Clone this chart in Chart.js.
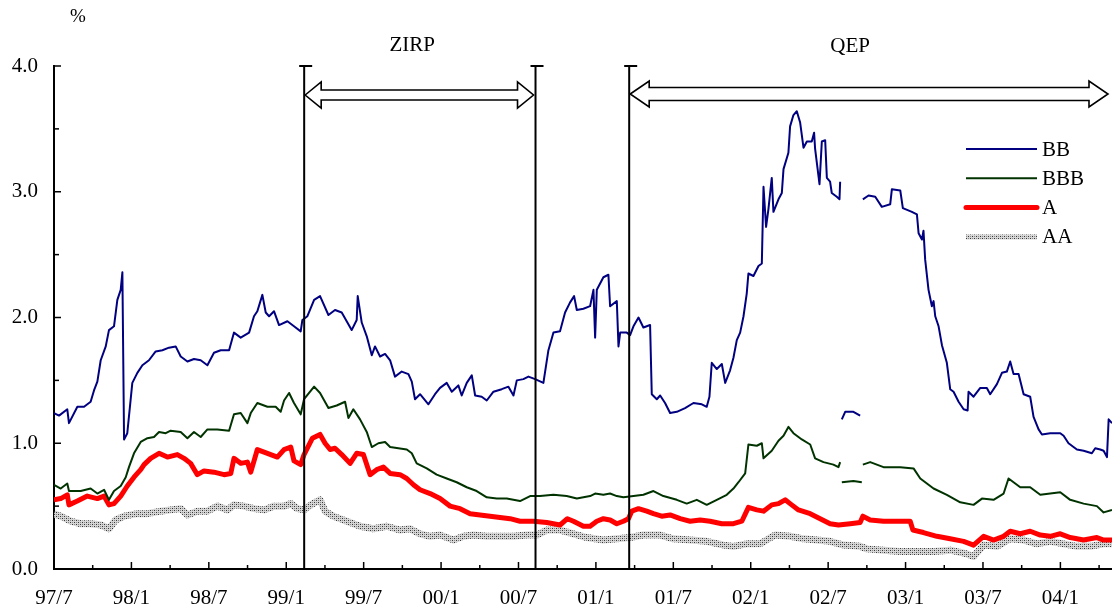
<!DOCTYPE html>
<html>
<head>
<meta charset="utf-8">
<script src="https://cdn.jsdelivr.net/npm/chart.js@4.4.1/dist/chart.umd.min.js"></script>
<style>
  html, body { margin: 0; padding: 0; background: #fff; }
  #spreads { display: block; }
</style>
</head>
<body>
<canvas id="spreads" width="1112" height="612"></canvas>
<script>
// x values are months counted from the start of July 1997
const tickLabels = ['97/7', '98/1', '98/7', '99/1', '99/7', '00/1', '00/7',
  '01/1', '01/7', '02/1', '02/7', '03/1', '03/7', '04/1'];
const yTicks = [0, 1, 2, 3, 4];

// ZIRP start (99/2/12), ZIRP end (00/8/11), QEP start (01/3/19)
const policyDates = [19.39, 37.32, 44.58];
const periodNames = ['ZIRP', 'QEP'];

const seriesNames = ['BB', 'BBB', 'A', 'AA'];

const bb = [
  [0, 1.24], [0.39, 1.22], [1.03, 1.27], [1.16, 1.16], [1.81, 1.29], [2.33, 1.29], [2.84, 1.33],
  [3.10, 1.42], [3.36, 1.49], [3.62, 1.66], [4.01, 1.77], [4.26, 1.90], [4.65, 1.93], [4.91, 2.14],
  [5.17, 2.22], [5.30, 2.36], [5.43, 1.03], [5.68, 1.08], [6.07, 1.48], [6.46, 1.56], [6.85, 1.62],
  [7.36, 1.66], [7.88, 1.73], [8.40, 1.74], [8.91, 1.76], [9.43, 1.77], [9.82, 1.69], [10.34, 1.65],
  [10.85, 1.67], [11.37, 1.66], [11.89, 1.62], [12.40, 1.72], [12.92, 1.74], [13.57, 1.74],
  [13.95, 1.88], [14.47, 1.84], [15.12, 1.88], [15.50, 2.01], [15.76, 2.05], [16.15, 2.18],
  [16.41, 2.04], [16.67, 2.01], [17.05, 2.05], [17.44, 1.94], [18.09, 1.97], [18.60, 1.93],
  [19.12, 1.89], [19.25, 1.98], [19.64, 2.01], [20.16, 2.14], [20.62, 2.17], [21.27, 2.02],
  [21.78, 2.06], [22.30, 2.04], [23.07, 1.90], [23.46, 1.98], [23.54, 2.17], [23.85, 1.96],
  [24.24, 1.85], [24.63, 1.70], [24.88, 1.77], [25.27, 1.69], [25.66, 1.71], [26.05, 1.66],
  [26.43, 1.53], [26.95, 1.57], [27.47, 1.55], [27.73, 1.49], [27.98, 1.35], [28.37, 1.39],
  [29.02, 1.31], [29.53, 1.39], [29.92, 1.44], [30.44, 1.48], [30.83, 1.41], [31.34, 1.46],
  [31.60, 1.38], [31.99, 1.48], [32.38, 1.54], [32.64, 1.38], [33.15, 1.37], [33.54, 1.34],
  [34.06, 1.41], [34.70, 1.43], [35.22, 1.45], [35.61, 1.38], [35.87, 1.50], [36.38, 1.51],
  [36.77, 1.53], [37.29, 1.51], [37.93, 1.48], [38.32, 1.74], [38.71, 1.88], [39.22, 1.89],
  [39.61, 2.04], [40.00, 2.12], [40.31, 2.17], [40.52, 2.06], [41.03, 2.07], [41.55, 2.09],
  [41.81, 2.22], [41.94, 1.84], [42.07, 2.22], [42.58, 2.32], [42.97, 2.34], [43.10, 2.09],
  [43.62, 2.13], [43.75, 1.77], [43.88, 1.88], [44.39, 1.88], [44.65, 1.86], [44.91, 1.93],
  [45.30, 2.00], [45.68, 1.92], [46.20, 1.94], [46.33, 1.39], [46.72, 1.35], [46.98, 1.38],
  [47.36, 1.32], [47.75, 1.24], [48.27, 1.25], [48.91, 1.28], [49.56, 1.32], [50.21, 1.31],
  [50.59, 1.29], [50.80, 1.37], [50.98, 1.64], [51.37, 1.59], [51.76, 1.63], [52.02, 1.48],
  [52.40, 1.58], [52.66, 1.68], [52.92, 1.82], [53.18, 1.88], [53.44, 2.01], [53.69, 2.19],
  [53.82, 2.35], [54.21, 2.33], [54.60, 2.41], [54.86, 2.43], [54.99, 3.04], [55.19, 2.72],
  [55.37, 2.86], [55.63, 3.11], [55.76, 2.84], [56.15, 2.94], [56.41, 2.99], [56.54, 3.18],
  [56.92, 3.31], [57.05, 3.52], [57.31, 3.61], [57.57, 3.64], [57.83, 3.55], [58.09, 3.35],
  [58.35, 3.40], [58.73, 3.40], [58.91, 3.47], [58.99, 3.34], [59.33, 3.06], [59.51, 3.40],
  [59.77, 3.41], [59.90, 3.11], [60.15, 3.08], [60.28, 2.99], [60.67, 2.96], [60.88, 2.94],
  [60.93, 3.08], [61.00, null], [61.06, 1.19], [61.32, 1.25], [61.96, 1.25], [62.48, 1.22],
  [62.60, null], [62.69, 2.94], [63.13, 2.97], [63.65, 2.96], [64.16, 2.88], [64.81, 2.90],
  [64.94, 3.02], [65.59, 3.01], [65.79, 2.87], [66.49, 2.84], [66.88, 2.82], [67.01, 2.67],
  [67.27, 2.62], [67.39, 2.69], [67.52, 2.46], [67.78, 2.22], [68.04, 2.09], [68.17, 2.13],
  [68.30, 2.01], [68.56, 1.93], [68.82, 1.78], [69.20, 1.64], [69.46, 1.43], [69.72, 1.41],
  [70.11, 1.33], [70.50, 1.27], [70.81, 1.26], [70.88, 1.41], [71.27, 1.37], [71.79, 1.44],
  [72.30, 1.44], [72.56, 1.39], [73.08, 1.47], [73.47, 1.56], [73.85, 1.57], [74.11, 1.65],
  [74.37, 1.55], [74.76, 1.55], [75.15, 1.39], [75.66, 1.37], [75.92, 1.21], [76.31, 1.11],
  [76.57, 1.07], [77.21, 1.08], [77.99, 1.08], [78.25, 1.06], [78.63, 1.00], [79.28, 0.95],
  [79.80, 0.94], [80.44, 0.92], [80.70, 0.96], [81.09, 0.95], [81.35, 0.94], [81.61, 0.89],
  [81.74, 1.19], [82.00, 1.16]
];

const bbb = [
  [0, 0.67], [0.52, 0.64], [1.03, 0.68], [1.16, 0.62], [2.07, 0.62], [2.84, 0.64], [3.36, 0.60],
  [3.88, 0.63], [4.26, 0.55], [4.65, 0.62], [5.17, 0.66], [5.56, 0.73], [5.81, 0.81], [6.20, 0.92],
  [6.72, 1.01], [7.24, 1.04], [7.75, 1.05], [8.14, 1.09], [8.66, 1.08], [9.04, 1.10], [9.82, 1.09],
  [10.34, 1.04], [10.85, 1.09], [11.37, 1.05], [11.89, 1.11], [12.66, 1.11], [13.57, 1.10],
  [13.95, 1.23], [14.47, 1.24], [14.99, 1.16], [15.25, 1.24], [15.76, 1.32], [16.54, 1.29],
  [17.18, 1.29], [17.57, 1.25], [17.83, 1.34], [18.22, 1.40], [18.60, 1.32], [19.12, 1.23],
  [19.38, 1.35], [20.16, 1.45], [20.62, 1.40], [21.27, 1.28], [21.91, 1.30], [22.56, 1.33],
  [22.82, 1.20], [23.20, 1.27], [23.72, 1.19], [24.24, 1.09], [24.63, 0.97], [25.14, 1.00],
  [25.66, 1.01], [26.05, 0.97], [26.69, 0.96], [27.34, 0.95], [27.73, 0.92], [28.11, 0.84],
  [28.89, 0.80], [29.66, 0.75], [30.44, 0.72], [31.21, 0.69], [31.99, 0.65], [32.76, 0.62],
  [33.54, 0.57], [34.32, 0.56], [35.09, 0.56], [36.12, 0.54], [36.90, 0.58], [37.67, 0.58],
  [38.71, 0.59], [39.74, 0.58], [40.52, 0.56], [41.55, 0.58], [41.94, 0.60], [42.58, 0.59],
  [43.10, 0.60], [43.62, 0.58], [44.13, 0.57], [44.91, 0.58], [45.68, 0.59], [46.46, 0.62],
  [47.23, 0.58], [48.27, 0.55], [49.04, 0.52], [49.82, 0.55], [50.59, 0.51], [51.37, 0.55],
  [52.14, 0.59], [52.66, 0.64], [53.05, 0.69], [53.57, 0.76], [53.82, 0.99], [54.47, 0.98],
  [54.86, 1.00], [54.99, 0.88], [55.63, 0.94], [56.15, 1.02], [56.54, 1.06], [56.92, 1.13],
  [57.31, 1.08], [57.96, 1.03], [58.61, 0.99], [58.99, 0.88], [59.64, 0.85], [60.41, 0.83],
  [60.80, 0.81], [60.93, 0.85], [61.00, null], [61.06, 0.69], [61.96, 0.70], [62.61, 0.69],
  [62.65, null], [62.69, 0.83], [63.26, 0.85], [64.29, 0.81], [65.59, 0.81], [66.62, 0.80],
  [67.14, 0.72], [68.17, 0.64], [69.20, 0.59], [70.24, 0.53], [71.27, 0.51], [71.92, 0.56],
  [72.82, 0.55], [73.60, 0.60], [73.98, 0.72], [74.37, 0.69], [74.89, 0.65], [75.66, 0.65],
  [76.44, 0.59], [77.21, 0.60], [77.99, 0.61], [78.76, 0.55], [79.80, 0.52], [80.83, 0.50],
  [81.35, 0.45], [82.00, 0.47]
];

const singleA = [
  [0, 0.55], [0.52, 0.56], [1.03, 0.59], [1.16, 0.51], [1.81, 0.54], [2.58, 0.58], [3.36, 0.56],
  [3.88, 0.58], [4.26, 0.51], [4.65, 0.52], [5.17, 0.58], [5.68, 0.66], [6.20, 0.73], [6.72, 0.79],
  [6.98, 0.83], [7.49, 0.88], [8.14, 0.92], [8.79, 0.89], [9.56, 0.91], [10.08, 0.88], [10.59, 0.84],
  [11.11, 0.75], [11.63, 0.78], [12.40, 0.77], [13.18, 0.75], [13.70, 0.76], [13.95, 0.88],
  [14.47, 0.84], [14.99, 0.85], [15.25, 0.77], [15.76, 0.95], [16.54, 0.92], [17.31, 0.89],
  [17.83, 0.95], [18.35, 0.97], [18.60, 0.86], [19.12, 0.83], [19.38, 0.91], [20.03, 1.04],
  [20.62, 1.07], [21.01, 1.00], [21.40, 0.95], [21.78, 0.96], [22.30, 0.91], [22.95, 0.84],
  [23.46, 0.92], [23.98, 0.91], [24.50, 0.75], [25.01, 0.79], [25.53, 0.81], [26.05, 0.76],
  [26.82, 0.75], [27.34, 0.72], [27.86, 0.67], [28.37, 0.63], [29.15, 0.60], [29.92, 0.56],
  [30.70, 0.50], [31.47, 0.48], [32.25, 0.44], [33.02, 0.43], [33.80, 0.42], [34.57, 0.41],
  [35.35, 0.40], [36.12, 0.38], [37.16, 0.38], [38.19, 0.37], [39.22, 0.35], [39.79, 0.40],
  [40.26, 0.38], [41.03, 0.34], [41.55, 0.34], [42.07, 0.38], [42.58, 0.40], [43.10, 0.39],
  [43.62, 0.36], [44.13, 0.38], [44.52, 0.40], [44.78, 0.46], [45.30, 0.48], [45.94, 0.46],
  [46.46, 0.44], [47.10, 0.42], [47.75, 0.43], [48.53, 0.40], [49.30, 0.38], [50.08, 0.39],
  [50.85, 0.38], [51.76, 0.36], [52.66, 0.36], [53.31, 0.38], [53.82, 0.49], [54.47, 0.47],
  [54.99, 0.46], [55.63, 0.51], [56.15, 0.52], [56.67, 0.55], [57.05, 0.52], [57.70, 0.47],
  [58.61, 0.44], [59.38, 0.40], [60.15, 0.36], [60.80, 0.35], [61.71, 0.36], [62.48, 0.37],
  [62.69, 0.42], [63.26, 0.39], [64.29, 0.38], [65.59, 0.38], [66.36, 0.38], [66.57, 0.31],
  [67.39, 0.29], [68.43, 0.26], [69.46, 0.24], [70.50, 0.22], [71.27, 0.19], [72.05, 0.26],
  [72.82, 0.23], [73.60, 0.26], [74.11, 0.30], [74.89, 0.28], [75.66, 0.30], [76.44, 0.27],
  [77.21, 0.26], [77.99, 0.28], [78.76, 0.25], [79.80, 0.23], [80.83, 0.25], [81.35, 0.23],
  [82.00, 0.23]
];

const doubleA = [
  [0, 0.44], [0.52, 0.42], [1.29, 0.38], [2.07, 0.36], [2.84, 0.36], [3.62, 0.35], [4.26, 0.32],
  [4.78, 0.39], [5.43, 0.42], [6.46, 0.44], [7.24, 0.44], [8.27, 0.46], [9.04, 0.47], [9.82, 0.48],
  [10.34, 0.43], [11.11, 0.46], [11.89, 0.46], [12.66, 0.50], [13.44, 0.47], [13.95, 0.51],
  [14.73, 0.50], [15.50, 0.48], [16.28, 0.47], [17.05, 0.50], [17.83, 0.50], [18.35, 0.52],
  [18.86, 0.48], [19.38, 0.47], [19.90, 0.51], [20.62, 0.55], [21.01, 0.46], [21.65, 0.42],
  [22.69, 0.38], [23.72, 0.34], [24.75, 0.32], [25.79, 0.34], [26.82, 0.31], [27.60, 0.32],
  [28.37, 0.28], [29.15, 0.26], [29.92, 0.27], [30.96, 0.23], [31.73, 0.26], [32.51, 0.27],
  [33.54, 0.26], [34.57, 0.26], [35.61, 0.26], [36.64, 0.27], [37.41, 0.27], [38.19, 0.31],
  [39.22, 0.31], [40.26, 0.28], [41.29, 0.25], [42.58, 0.23], [43.62, 0.24], [44.65, 0.25],
  [45.68, 0.27], [46.98, 0.27], [48.01, 0.24], [49.30, 0.23], [50.59, 0.22], [51.89, 0.19],
  [52.66, 0.18], [53.69, 0.20], [54.73, 0.20], [55.89, 0.27], [57.05, 0.26], [58.09, 0.24],
  [59.12, 0.23], [60.15, 0.22], [61.19, 0.19], [62.48, 0.18], [63.00, 0.16], [64.29, 0.15],
  [65.59, 0.14], [66.88, 0.14], [68.17, 0.14], [69.46, 0.15], [70.75, 0.12], [71.27, 0.10],
  [72.05, 0.19], [73.08, 0.18], [74.11, 0.24], [75.15, 0.23], [76.18, 0.20], [77.21, 0.22],
  [78.25, 0.20], [79.28, 0.18], [80.31, 0.18], [81.35, 0.20], [82.00, 0.20]
];

const toPoints = rows => rows.map(([m, v]) => ({ x: m, y: v }));

// gray dotted fill used for the AA band
function dotPattern(ctx) {
  const c = document.createElement('canvas');
  c.width = 4; c.height = 4;
  const g = c.getContext('2d');
  g.fillStyle = '#d6d6d6';
  g.fillRect(0, 0, 4, 4);
  g.fillStyle = '#383838';
  g.fillRect(0, 0, 1, 1);
  g.fillRect(2, 2, 1, 1);
  g.fillStyle = '#888';
  g.fillRect(2, 0, 1, 1);
  g.fillRect(0, 2, 1, 1);
  return ctx.createPattern(c, 'repeat');
}

const canvas = document.getElementById('spreads');
const ctx = canvas.getContext('2d');
const aaFill = dotPattern(ctx);

const styles = [
  { color: '#000080', width: 2 },
  { color: '#003300', width: 2 },
  { color: '#ff0000', width: 5 },
  { color: aaFill, width: 7 }
];

Chart.defaults.font.family = '"Liberation Serif", "Times New Roman", serif';
Chart.defaults.color = '#000';

function doubleArrow(c, x1, x2, yc, shaft, head, headLen) {
  c.beginPath();
  c.moveTo(x1, yc);
  c.lineTo(x1 + headLen, yc - head);
  c.lineTo(x1 + headLen, yc - shaft);
  c.lineTo(x2 - headLen, yc - shaft);
  c.lineTo(x2 - headLen, yc - head);
  c.lineTo(x2, yc);
  c.lineTo(x2 - headLen, yc + head);
  c.lineTo(x2 - headLen, yc + shaft);
  c.lineTo(x1 + headLen, yc + shaft);
  c.lineTo(x1 + headLen, yc + head);
  c.closePath();
  c.fillStyle = '#fff';
  c.fill();
  c.lineWidth = 1.6;
  c.strokeStyle = '#000';
  c.stroke();
}

const annotations = {
  id: 'annotations',
  afterDatasetsDraw(chart) {
    const { ctx: c, chartArea: area, scales: { x, y } } = chart;
    c.save();
    c.strokeStyle = '#000';

    // inward tick marks: quarters on x, half points on y
    c.lineWidth = 1.5;
    for (let m = 0; m <= 81; m += 3) {
      const px = x.getPixelForValue(m);
      const len = m % 6 === 0 ? 7 : 4;
      c.beginPath();
      c.moveTo(px, area.bottom);
      c.lineTo(px, area.bottom - len);
      c.stroke();
    }
    for (let v = 0; v <= 4; v += 0.5) {
      const py = y.getPixelForValue(v);
      const len = Number.isInteger(v) ? 7 : 5;
      c.beginPath();
      c.moveTo(area.left, py);
      c.lineTo(area.left + len, py);
      c.stroke();
    }

    // policy change lines
    const top = y.getPixelForValue(4);
    const xs = policyDates.map(m => x.getPixelForValue(m));
    c.lineWidth = 2;
    xs.forEach(px => {
      c.beginPath();
      c.moveTo(px, top);
      c.lineTo(px, area.bottom);
      c.moveTo(px - 5, top);
      c.lineTo(px + 8, top);
      c.stroke();
    });

    // period arrows and names
    doubleArrow(c, xs[0] + 1, xs[1] - 2, top + 29, 5, 13, 16);
    doubleArrow(c, xs[2] + 1, area.right - 4, top + 28, 6.5, 13, 19);

    c.fillStyle = '#000';
    c.font = '21px "Liberation Serif", serif';
    c.textAlign = 'center';
    c.textBaseline = 'middle';
    c.fillText(periodNames[0], xs[0] + 108, top - 21);
    c.fillText(periodNames[1], xs[2] + 221, top - 20);

    // unit label
    c.font = '19px "Liberation Serif", serif';
    c.fillText('%', area.left + 24, 17);

    // legend
    c.font = '21px "Liberation Serif", serif';
    c.textAlign = 'left';
    const lx = 966, lw = 71;
    seriesNames.forEach((name, i) => {
      const ly = 149 + i * 29.3;
      c.beginPath();
      c.moveTo(lx, ly);
      c.lineTo(lx + lw, ly);
      c.strokeStyle = styles[i].color;
      c.lineWidth = i === 3 ? 5 : styles[i].width;
      c.lineCap = i === 2 ? 'round' : 'butt';
      c.stroke();
      c.fillStyle = '#000';
      c.fillText(name, lx + lw + 5, ly + 1);
    });
    c.restore();
  }
};

new Chart(canvas, {
  type: 'line',
  data: {
    datasets: [bb, bbb, singleA, doubleA].map((rows, i) => ({
      label: seriesNames[i],
      data: toPoints(rows),
      borderColor: styles[i].color,
      borderWidth: styles[i].width,
      borderJoinStyle: 'round',
      pointRadius: 0,
      tension: 0,
      spanGaps: false
    }))
  },
  options: {
    responsive: false,
    animation: false,
    layout: { padding: { top: 66, right: 0, bottom: 0, left: 0 } },
    plugins: { legend: { display: false }, tooltip: { enabled: false } },
    scales: {
      x: {
        type: 'linear',
        min: 0,
        max: 82,
        grid: { display: false, drawTicks: false },
        border: { display: true, color: '#000', width: 2 },
        ticks: {
          stepSize: 6,
          autoSkip: false,
          maxRotation: 0,
          minRotation: 0,
          padding: 17,
          font: { size: 21 },
          callback: v => (v % 6 === 0 && tickLabels[v / 6]) || ''
        },
        afterFit: s => {
          s.height = 43;
          s.paddingLeft = 0;
          s.paddingRight = 0;
        }
      },
      y: {
        min: 0,
        max: 4,
        grid: { display: false, drawTicks: false },
        border: { display: true, color: '#000', width: 2 },
        ticks: {
          stepSize: 1,
          padding: 16,
          font: { size: 21 },
          callback: v => (yTicks.includes(v) ? v.toFixed(1) : '')
        },
        afterFit: s => { s.width = 54; }
      }
    }
  },
  plugins: [annotations]
});
</script>
</body>
</html>
